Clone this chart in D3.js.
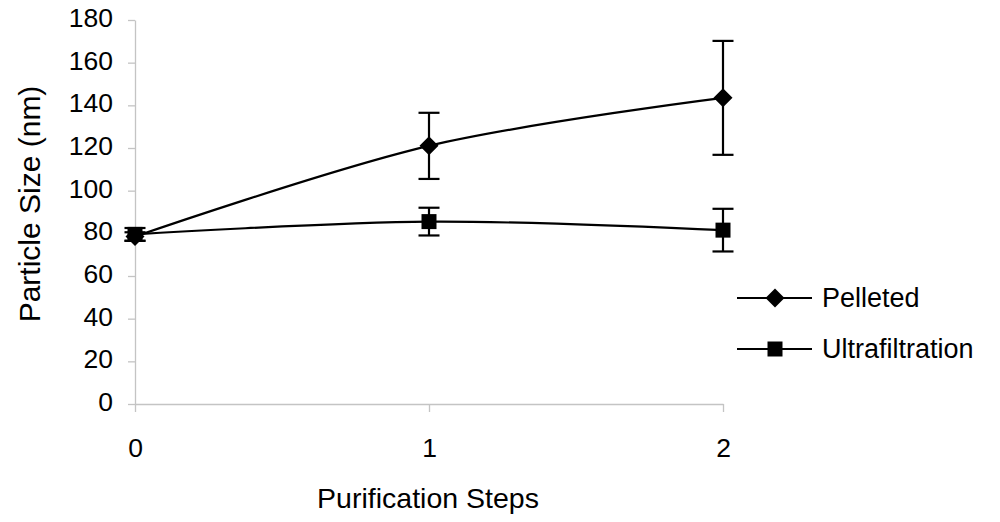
<!DOCTYPE html>
<html><head><meta charset="utf-8">
<script src="https://cdn.jsdelivr.net/npm/d3@7"></script>
<style>body{margin:0;background:#fff;}svg{display:block;font-family:"Liberation Sans",Arial,sans-serif;}</style>
</head><body><svg id="c" width="1000" height="522"></svg>
<script>
const steps = [0, 1, 2];
const xTicks = [0, 1, 2];
const yTicks = [0, 20, 40, 60, 80, 100, 120, 140, 160, 180];
const pelleted = [78.5, 121, 143.5];
const pelletedErr = [2, 15.5, 26.7];
const ultra = [79.5, 85.5, 81.5];
const ultraErr = [3, 6.5, 10];
const seriesNames = ["Pelleted", "Ultrafiltration"];

const FONT = "Liberation Sans, Arial, sans-serif";
const svg = d3.select("#c");
const x = d3.scaleLinear().domain([0, 2]).range([135, 723]);
const y = d3.scaleLinear().domain([0, 180]).range([404, 20]);
const axisColor = "#c4c4c4";

// y axis
const ya = svg.append("g").attr("transform", "translate(135,0)")
  .call(d3.axisLeft(y).tickValues(yTicks).tickSize(7).tickPadding(15).tickSizeOuter(0));
ya.attr("font-size", null).attr("font-family", null);
ya.select(".domain").attr("stroke", axisColor).attr("stroke-width", 1.3);
ya.selectAll(".tick line").attr("stroke", axisColor).attr("stroke-width", 1.3);
ya.selectAll("text").attr("font-size", 26.5).attr("fill", "#000").attr("font-family", FONT).attr("dy", "0.25em");

// x axis
const xa = svg.append("g").attr("transform", "translate(0,404)")
  .call(d3.axisBottom(x).tickValues(xTicks).tickFormat(d3.format("d")).tickSize(8).tickPadding(26).tickSizeOuter(0));
xa.attr("font-size", null).attr("font-family", null);
xa.select(".domain").attr("stroke", axisColor).attr("stroke-width", 1.3);
xa.selectAll(".tick line").attr("stroke", axisColor).attr("stroke-width", 1.3);
xa.selectAll("text").attr("font-size", 26.5).attr("fill", "#000").attr("font-family", FONT);

// titles
svg.append("text").attr("x", 428).attr("y", 508).attr("text-anchor", "middle")
  .attr("font-size", 28.5).attr("font-family", FONT).text("Purification Steps");
svg.append("text").attr("transform", "translate(40,204) rotate(-90)").attr("text-anchor", "middle")
  .attr("font-size", 30).attr("font-family", FONT).text("Particle Size (nm)");

const line = d3.line().x((d, i) => x(steps[i])).y(d => y(d)).curve(d3.curveCatmullRom.alpha(0));
const diamond = "M0,-9.5L9.5,0L0,9.5L-9.5,0Z";
const square = "M-7.5,-7.5H7.5V7.5H-7.5Z";
const series = [
  {vals: pelleted, err: pelletedErr, shape: diamond},
  {vals: ultra, err: ultraErr, shape: square}
];

series.forEach(s => {
  s.vals.forEach((v, i) => {
    const g = svg.append("g").attr("stroke", "#000").attr("stroke-width", 2.2);
    const cx = x(steps[i]);
    g.append("line").attr("x1", cx).attr("x2", cx).attr("y1", y(v + s.err[i])).attr("y2", y(v - s.err[i]));
    g.append("line").attr("x1", cx - 10.5).attr("x2", cx + 10.5).attr("y1", y(v + s.err[i])).attr("y2", y(v + s.err[i]));
    g.append("line").attr("x1", cx - 10.5).attr("x2", cx + 10.5).attr("y1", y(v - s.err[i])).attr("y2", y(v - s.err[i]));
  });
  svg.append("path").datum(s.vals).attr("d", line).attr("fill", "none").attr("stroke", "#000").attr("stroke-width", 2.2);
});
series.forEach(s => {
  svg.selectAll(null).data(s.vals).enter().append("path")
    .attr("d", s.shape)
    .attr("transform", (d, i) => `translate(${x(steps[i])},${y(d)})`)
    .attr("fill", "#000");
});

// legend
const legY = [298, 349];
seriesNames.forEach((n, i) => {
  const g = svg.append("g").attr("transform", `translate(0,${legY[i]})`);
  g.append("line").attr("x1", 737).attr("x2", 812).attr("y1", 0).attr("y2", 0).attr("stroke", "#000").attr("stroke-width", 2.2);
  g.append("path").attr("d", series[i].shape).attr("transform", "translate(775,0)");
  g.append("text").attr("x", 822).attr("y", 9).attr("font-size", 27).attr("font-family", FONT).text(n);
});
</script></body></html>
